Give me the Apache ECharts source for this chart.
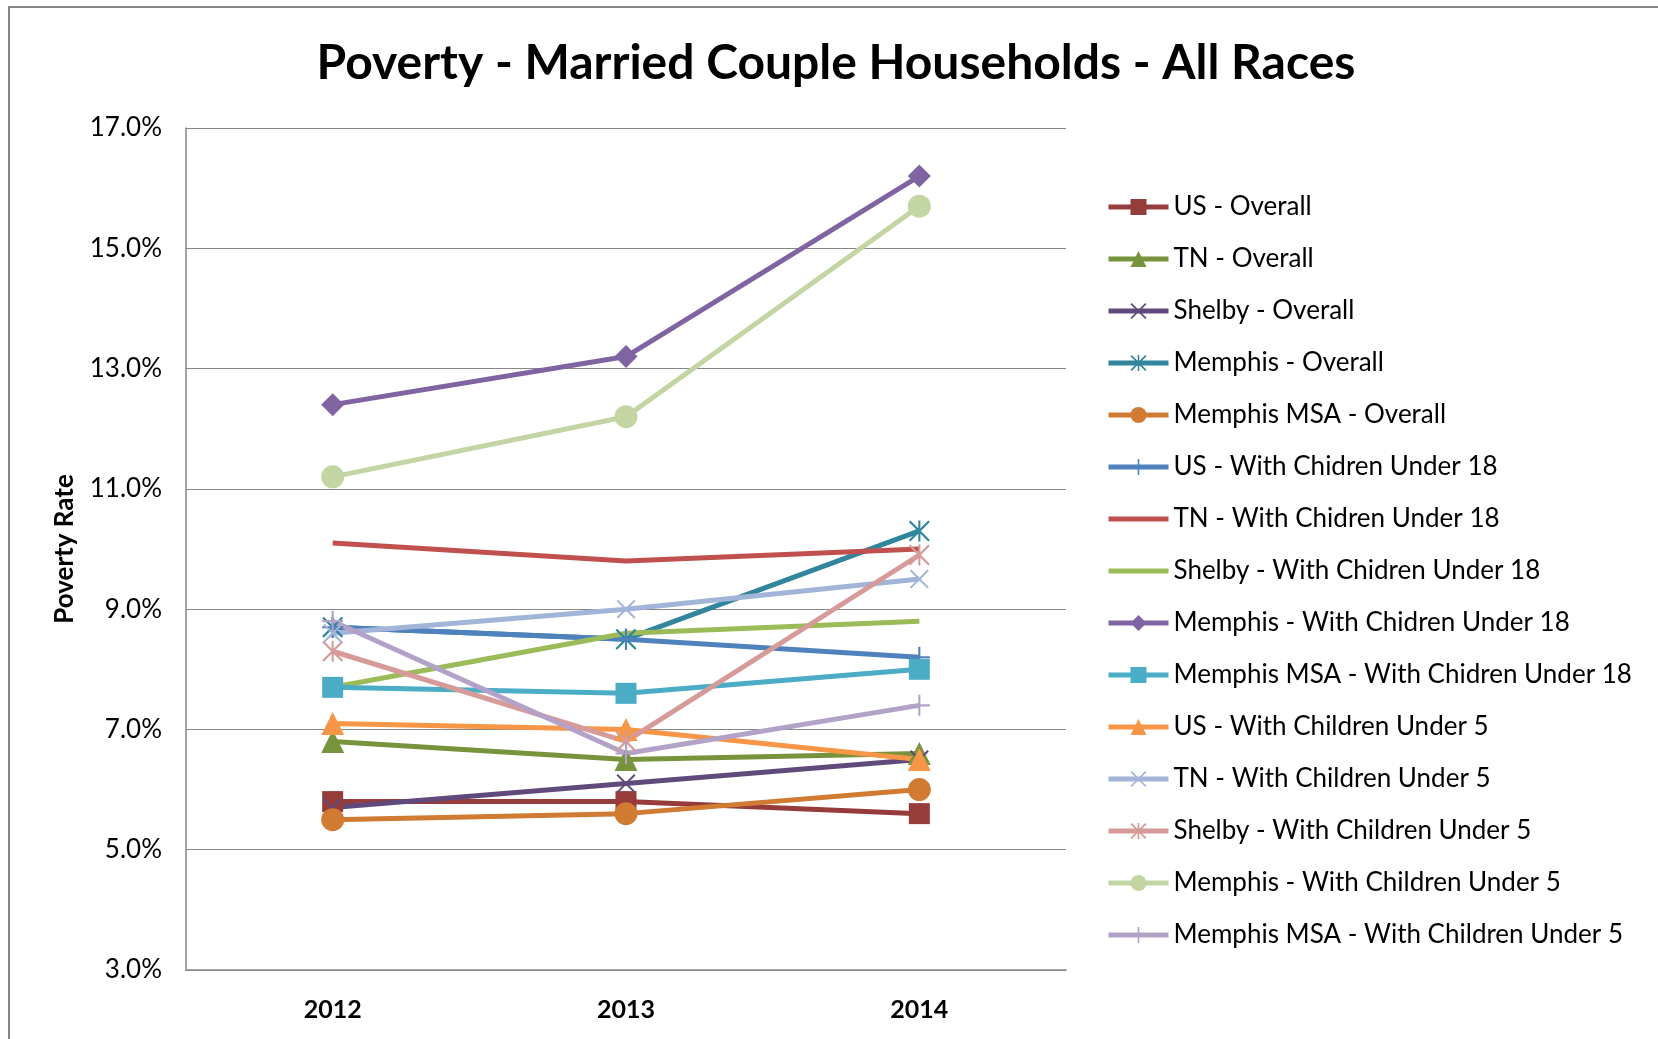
<!DOCTYPE html>
<html>
<head>
<meta charset="utf-8">
<title>Poverty - Married Couple Households - All Races</title>
<script src="https://cdn.jsdelivr.net/npm/echarts@6/dist/echarts.min.js"></script>
<style>
  html, body { margin: 0; padding: 0; background: #fff; }
  #chart { width: 1658px; height: 1039px; }
</style>
</head>
<body>
<div id="chart"></div>
<script>
  // data (percent)
  var years = ['2012', '2013', '2014'];

  var usOverall = [5.8, 5.8, 5.6];
  var tnOverall = [6.8, 6.5, 6.6];
  var shelbyOverall = [5.7, 6.1, 6.5];
  var memphisOverall = [8.7, 8.5, 10.3];
  var msaOverall = [5.5, 5.6, 6.0];
  var usUnder18 = [8.7, 8.5, 8.2];
  var tnUnder18 = [10.1, 9.8, 10.0];
  var shelbyUnder18 = [7.7, 8.6, 8.8];
  var memphisUnder18 = [12.4, 13.2, 16.2];
  var msaUnder18 = [7.7, 7.6, 8.0];
  var usUnder5 = [7.1, 7.0, 6.5];
  var tnUnder5 = [8.6, 9.0, 9.5];
  var shelbyUnder5 = [8.3, 6.8, 9.9];
  var memphisUnder5 = [11.2, 12.2, 15.7];
  var msaUnder5 = [8.8, 6.6, 7.4];

  // excel style markers drawn as filled paths
  var xMark = 'path://M0 1.5L1.5 0L20 18.5L18.5 20Z M18.5 0L20 1.5L1.5 20L0 18.5Z';
  var starMark = 'path://M0 1.5L1.5 0L20 18.5L18.5 20Z M18.5 0L20 1.5L1.5 20L0 18.5Z M9 0L11 0L11 20L9 20Z';
  var plusMark = 'path://M9 0H11V9H20V11H11V20H9V11H0V9H9Z';
  // plain line for the legend of series without markers
  var lineIcon = 'path://M0 0H60V5H0Z';

  var seriesDefs = [
    { name: 'US - Overall', data: usOverall, color: '#963C3B', symbol: 'rect', size: 21 },
    { name: 'TN - Overall', data: tnOverall, color: '#77933C', symbol: 'triangle', size: 23 },
    { name: 'Shelby - Overall', data: shelbyOverall, color: '#604A7B', symbol: xMark, size: 19 },
    { name: 'Memphis - Overall', data: memphisOverall, color: '#31859C', symbol: starMark, size: 21 },
    { name: 'Memphis MSA - Overall', data: msaOverall, color: '#D17A32', symbol: 'circle', size: 23 },
    { name: 'US - With Chidren Under 18', data: usUnder18, color: '#4F81BD', symbol: plusMark, size: 21 },
    { name: 'TN - With Chidren Under 18', data: tnUnder18, color: '#C0504D', symbol: 'none', size: 0 },
    { name: 'Shelby - With Chidren Under 18', data: shelbyUnder18, color: '#9BBB59', symbol: 'none', size: 0 },
    { name: 'Memphis - With Chidren Under 18', data: memphisUnder18, color: '#8064A2', symbol: 'diamond', size: 23 },
    { name: 'Memphis MSA - With Chidren Under 18', data: msaUnder18, color: '#4BACC6', symbol: 'rect', size: 21 },
    { name: 'US - With Children Under 5', data: usUnder5, color: '#F79646', symbol: 'triangle', size: 23 },
    { name: 'TN - With Children Under 5', data: tnUnder5, color: '#A2B5D8', symbol: xMark, size: 19 },
    { name: 'Shelby - With Children Under 5', data: shelbyUnder5, color: '#D69A98', symbol: starMark, size: 21 },
    { name: 'Memphis - With Children Under 5', data: memphisUnder5, color: '#C3D5A3', symbol: 'circle', size: 23 },
    { name: 'Memphis MSA - With Children Under 5', data: msaUnder5, color: '#B3A2C7', symbol: plusMark, size: 21 }
  ];

  var series = seriesDefs.map(function (d) {
    return {
      name: d.name,
      type: 'line',
      data: d.data,
      symbol: d.symbol,
      symbolSize: d.size,
      showSymbol: d.symbol !== 'none',
      color: d.color,
      lineStyle: { width: 5, color: d.color },
      itemStyle: { color: d.color },
      emphasis: { disabled: true },
      animation: false
    };
  });

  var legendData = seriesDefs.map(function (d) {
    if (d.symbol === 'none') {
      return { name: d.name, icon: lineIcon };
    }
    return { name: d.name };
  });

  var myChart = echarts.init(document.getElementById('chart'));
  myChart.setOption({
    backgroundColor: '#fff',
    textStyle: { fontFamily: 'Lato' },
    title: {
      text: 'Poverty - Married Couple Households - All Races',
      left: 831,
      textAlign: 'center',
      top: 35,
      textStyle: { fontFamily: 'Lato', fontWeight: 'bold', fontSize: 48, color: '#000' }
    },
    graphic: [{
      type: 'rect',
      shape: { x: 9, y: 7, width: 1700, height: 1100 },
      style: { fill: 'none', stroke: '#868686', lineWidth: 2 },
      silent: true
    }],
    legend: {
      orient: 'vertical',
      left: 1101,
      top: 189,
      itemWidth: 60,
      itemHeight: 20,
      itemGap: 26,
      symbolKeepAspect: true,
      lineStyle: { width: 5 },
      textStyle: { fontFamily: 'Lato', fontSize: 26, lineHeight: 26, color: '#000' },
      data: legendData
    },
    grid: {
      left: 186,
      top: 128,
      right: 592,
      bottom: 69,
      containLabel: false
    },
    xAxis: {
      type: 'category',
      data: years,
      boundaryGap: true,
      axisLine: { show: true, lineStyle: { color: '#878787', width: 1.5 } },
      axisTick: { show: false },
      axisLabel: { margin: 27, fontFamily: 'Lato', fontWeight: 'bold', fontSize: 25, color: '#000' }
    },
    yAxis: {
      type: 'value',
      min: 3,
      max: 17,
      interval: 2,
      name: 'Poverty Rate',
      nameLocation: 'middle',
      nameRotate: 90,
      nameGap: 108,
      nameTextStyle: { fontFamily: 'Lato', fontWeight: 'bold', fontSize: 26, color: '#000' },
      axisLine: { show: true, lineStyle: { color: '#878787', width: 1.5 } },
      axisTick: { show: true, inside: true, length: 4, lineStyle: { color: '#878787' } },
      splitLine: { show: true, lineStyle: { color: '#878787', width: 1.2 } },
      axisLabel: {
        margin: 24,
        fontFamily: 'Lato',
        fontSize: 26,
        color: '#000',
        formatter: function (v) { return v.toFixed(1) + '%'; }
      }
    },
    series: series
  });
</script>
</body>
</html>
